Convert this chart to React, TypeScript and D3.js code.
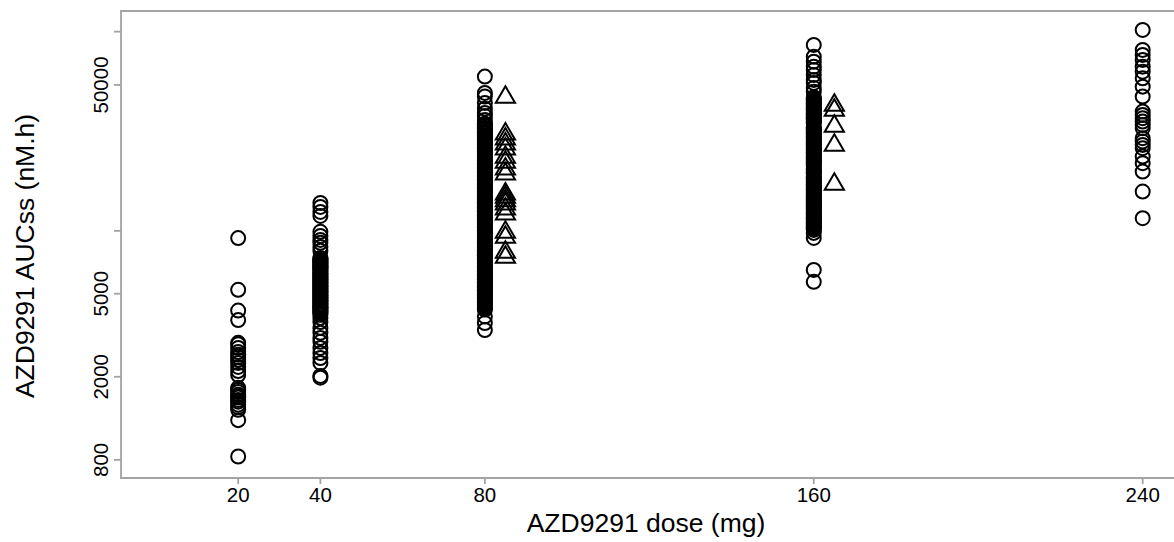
import React from "react";
import * as d3 from "d3";

const W = 1174;
const H = 542;

const xTicks = [20, 40, 80, 160, 240];
const yTicksLabeled = [800, 2000, 5000, 50000];
const yTicksUnlabeled = [10000, 90000];

const xTitle = "AZD9291 dose (mg)";
const yTitle = "AZD9291 AUCss (nM.h)";

// circles: observed AUCss per dose
const auc20 = [9230, 5220, 4150, 3740, 2910, 2860, 2750, 2630, 2550, 2480, 2410, 2330, 2230, 2130, 2040,
  1770, 1730, 1690, 1640, 1610, 1590, 1550, 1520, 1470, 1430, 1390, 1240, 830];

const auc40 = [13610, 13020, 12320, 11790, 9890, 9460, 9050, 8760, 8380, 8020, 7420, 7300, 7180, 7060, 6950,
  6830, 6720, 6600, 6500, 6360, 6250, 6150, 6050, 5950, 5860, 5760, 5670, 5570, 5480, 5390, 5300, 5210,
  5130, 5050, 4960, 4880, 4800, 4720, 4640, 4570, 4490, 4420, 4350, 4280, 4180, 4090, 3960, 3830, 3660, 3430,
  3250, 3070, 2940, 2750, 2600, 2460, 2330, 2020, 1980,
  7360, 7120, 6890, 6660, 6430, 6200, 6000, 5810, 5620, 5430, 5250, 5090, 4920, 4760, 4600, 4460, 4310,
  4230, 4130, 4040];

const auc80 = [54800, 45780, 43960, 41000, 38500, 36720, 35500, 34000, 32600, 31900, 31220, 30550, 29890,
  29240, 28610, 28000, 27390, 26800, 26230, 25660, 25110, 24570, 24040, 23520, 23010, 22520, 22030, 21560,
  21090, 20640, 20190, 19760, 19330, 18910, 18510, 18110, 17720, 17340, 16960, 16600, 16240, 15890, 15550,
  15210, 14880, 14560, 14250, 13940, 13640, 13350, 13060, 12780, 12500, 12230, 11970, 11710, 11460, 11210,
  10970, 10730, 10500, 10280, 10050, 9840, 9620, 9420, 9210, 9010, 8820, 8630, 8440, 8260, 8080, 7910, 7740,
  7570, 7410, 7250, 7090, 6940, 6790, 6640, 6500, 6360, 6220, 6090, 5960, 5830, 5700, 5580, 5460, 5340,
  5220, 5110, 4990, 4870, 4720, 4590, 4450, 4310, 4200, 3890, 3620, 3350,
  32250, 30880, 29560, 28300, 27090, 25940, 24830, 23770, 22760, 21790, 20860, 19970, 19120, 18310, 17530,
  16780, 16060, 15380, 14720, 14090, 13490, 12920, 12360, 11840, 11330, 10850, 10390, 9940, 9520, 9110,
  8720, 8350, 7990, 7650, 7330, 7020, 6710, 6430, 6150, 5890, 5640, 5400, 5170, 4950, 4790, 4650, 4520,
  4380, 4250];

const auc160 = [77700, 68310, 64650, 61170, 58980, 55830, 52830, 51110, 48360, 46430, 43670, 42480, 41320,
  40190, 39100, 38030, 37000, 35990, 35010, 34050, 33130, 31350, 30490, 29660, 28850, 28070, 27300, 26560,
  25840, 25130, 24450, 23780, 23130, 22500, 21890, 21290, 20710, 19600, 19060, 18040, 17550, 17070, 16600,
  16150, 15710, 15280, 14870, 14460, 14070, 13680, 13310, 12950, 12600, 12250, 11920, 11600, 11280, 10970,
  10670, 10380, 10100, 9780, 9250, 6500, 5700,
  42900, 41900, 40700, 39600, 38500, 37500, 36500, 35500, 34500, 33600, 32700, 30900, 30100, 29200, 28400,
  27700, 26900, 26200, 25500, 24800, 24100, 23450, 22800, 22200, 21600, 21000, 20400, 19900, 19300, 18800,
  18300, 17800, 17300, 16800, 16400, 15950, 15500, 15100, 14650, 14250, 13870, 13500, 13130, 12780, 12420,
  12080, 11760, 11440, 11120, 10820, 10520, 10240];

const auc240 = [91700, 73550, 69610, 65870, 61170, 57890, 53830, 49070, 43950, 37250, 35930, 34640, 33370,
  32170, 31020, 27780, 26760, 25800, 24880, 22680, 21090, 19220, 15420, 11500];

// triangles: second group, plotted slightly right of the dose
const triDose80 = 85;
const triDose160 = 165;
const tri80 = [44770, 29880, 28280, 26760, 25320, 23110, 21870, 20310, 19220, 15420, 14870, 14330, 13810,
  13070, 12370, 10110, 9560, 8110, 7670];
const tri160 = [41010, 38800, 32530, 26380, 17160];

const circleGroups: [number, number[]][] = [
  [20, auc20],
  [40, auc40],
  [80, auc80],
  [160, auc160],
  [240, auc240],
];
const triangleGroups: [number, number[]][] = [
  [triDose80, tri80],
  [triDose160, tri160],
];

const left = 121;
const right = 1176;
const top = 11;
const bottom = 478;

const FONT = "'Liberation Sans', Arial, Helvetica, sans-serif";
const AXIS = "#a3a3a3";

export default function App() {
  const x = d3.scaleLinear().domain([-8.5, 248.1]).range([left, right]);
  const y = d3.scaleLog().domain([655, 113000]).range([bottom, top]);

  const r = 7;
  const sw = 2;
  const triPath = (cx: number, cy: number) => {
    const hw = 9.6;
    return `M${cx},${cy - 8.6}L${cx + hw},${cy + 7.9}L${cx - hw},${cy + 7.9}Z`;
  };

  return (
    <svg
      width={W}
      height={H}
      style={{ position: "absolute", left: 0, top: 0, background: "#fff" }}
      fontFamily={FONT}
    >
      <rect x={0} y={0} width={W} height={H} fill="#fff" />
      {/* axes frame */}
      <line x1={left} x2={right} y1={top} y2={top} stroke={AXIS} strokeWidth={1.8} />
      <line x1={left} x2={left} y1={top - 0.9} y2={bottom + 0.9} stroke={AXIS} strokeWidth={1.8} />
      <line x1={left - 0.9} x2={right} y1={bottom} y2={bottom} stroke={AXIS} strokeWidth={1.8} />

      {/* y ticks */}
      {[...yTicksLabeled, ...yTicksUnlabeled].map((t) => (
        <line key={"yt" + t} x1={left - 7} x2={left} y1={y(t)} y2={y(t)} stroke={AXIS} strokeWidth={1.8} />
      ))}
      {yTicksLabeled.map((t) => (
        <text
          key={"yl" + t}
          transform={`translate(${108},${y(t)}) rotate(-90)`}
          textAnchor="middle"
          fontSize={20.5}
          fill="#000"
        >
          {String(t)}
        </text>
      ))}

      {/* x ticks */}
      {xTicks.map((t) => (
        <g key={"xt" + t}>
          <line x1={x(t)} x2={x(t)} y1={bottom} y2={bottom + 6} stroke={AXIS} strokeWidth={1.8} />
          <text x={x(t)} y={502} textAnchor="middle" fontSize={20.5} fill="#000">
            {String(t)}
          </text>
        </g>
      ))}

      {/* titles */}
      <text x={646} y={532} textAnchor="middle" fontSize={26.5} fill="#000">
        {xTitle}
      </text>
      <text transform={`translate(${34},${256}) rotate(-90)`} textAnchor="middle" fontSize={26.5} fill="#000">
        {yTitle}
      </text>

      {/* circles */}
      {circleGroups.map(([dose, vals]) =>
        vals.map((v, i) => (
          <circle
            key={`c${dose}-${i}`}
            cx={x(dose)}
            cy={y(v)}
            r={r}
            fill="none"
            stroke="#000"
            strokeWidth={sw}
          />
        ))
      )}

      {/* triangles */}
      {triangleGroups.map(([dose, vals]) =>
        vals.map((v, i) => (
          <path
            key={`t${dose}-${i}`}
            d={triPath(x(dose), y(v))}
            fill="none"
            stroke="#000"
            strokeWidth={sw}
            strokeLinejoin="miter"
          />
        ))
      )}
    </svg>
  );
}
